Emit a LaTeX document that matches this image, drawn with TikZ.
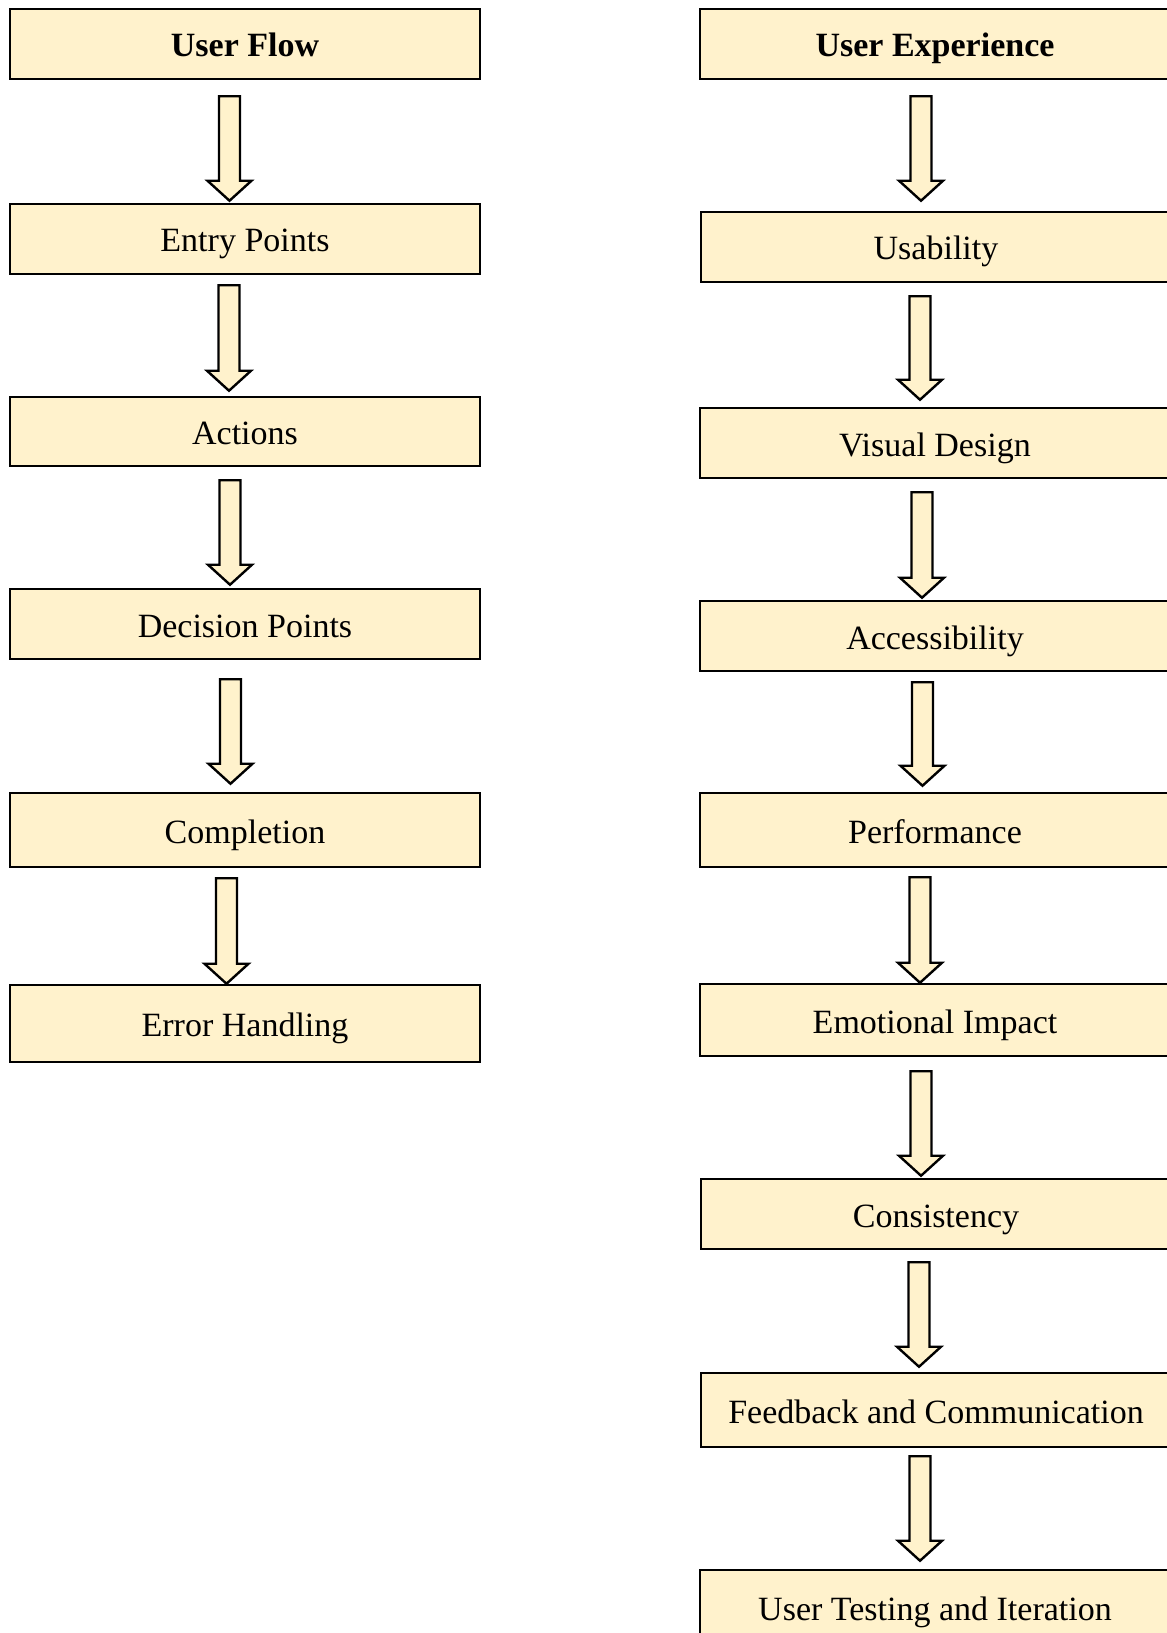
\documentclass[tikz,border=0pt]{standalone}
\usepackage{fontspec}
\setmainfont{Liberation Serif}
\usetikzlibrary{calc}
\definecolor{boxfill}{HTML}{FFF2CC}

\begin{document}
\begin{tikzpicture}[x=0.75pt,y=0.75pt,
        box/.style={draw=black,line width=1.9pt,fill=boxfill,inner sep=0pt,
            text height=19.5pt,text depth=0pt,
            minimum width=352.5pt,minimum height=52.5pt,font=\fontsize{25.5}{30}\selectfont},
        title/.style={box,font=\fontsize{25.5}{30}\selectfont\bfseries},
        fatarrow/.style={draw=black,line width=1.8pt,fill=boxfill,line join=miter}]
    \useasboundingbox (0,0) rectangle (1166,-1633);
    % left column
    \node[title] (uf) at (245,-44) {User Flow};
    \node[box] (ep) at (245,-239) {Entry Points};
    \node[box,minimum height=51.75pt] (ac) at (245,-431.5) {Actions};
    \node[box] (dp) at (245,-624) {Decision Points};
    \node[box,minimum height=55.5pt] (co) at (245,-830) {Completion};
    \node[box,minimum height=57.75pt] (eh) at (245,-1023.5) {Error Handling};
    % right column
    \node[title] (ue) at (935,-44) {User Experience};
    \node[box] (us) at (936,-247) {Usability};
    \node[box] (vd) at (935,-443) {Visual Design};
    \node[box] (ax) at (935,-636) {Accessibility};
    \node[box,minimum height=55.5pt] (pe) at (935,-830) {Performance};
    \node[box,minimum height=54pt] (em) at (935,-1020) {Emotional Impact};
    \node[box] (cs) at (936,-1214) {Consistency};
    \node[box,minimum height=55.5pt] (fb) at (936,-1410) {Feedback and Communication};
    \node[box,minimum height=56.25pt] (ut) at (935,-1607.5) {User Testing and Iteration};
    % block arrows
    \foreach \a/\b/\dx/\s/\g in {uf/ep/-15.5/16/2, ep/ac/-16/10/5, ac/dp/-15/13/3,
            dp/co/-14.5/19/8, co/eh/-18.5/10/0,
            ue/us/-15/16/10, us/vd/-15/13/7, vd/ax/-13/13/2, ax/pe/-12.5/10/6,
            pe/em/-15/9/0, em/cs/-15/14/2, cs/fb/-17/12/5, fb/ut/-15/8/8}
        \draw[fatarrow] let \p1=($(\a.south)+(\dx,-\s)$), \p2=($(\b.north)+(\dx,\g)$) in
            (\x2,\y2) -- (\x2-16.5pt,\y2+15pt) -- (\x2-7.875pt,\y2+15pt) -- (\x2-7.875pt,\y1)
            -- (\x2+7.875pt,\y1) -- (\x2+7.875pt,\y2+15pt) -- (\x2+16.5pt,\y2+15pt) -- cycle;
\end{tikzpicture}
\end{document}
